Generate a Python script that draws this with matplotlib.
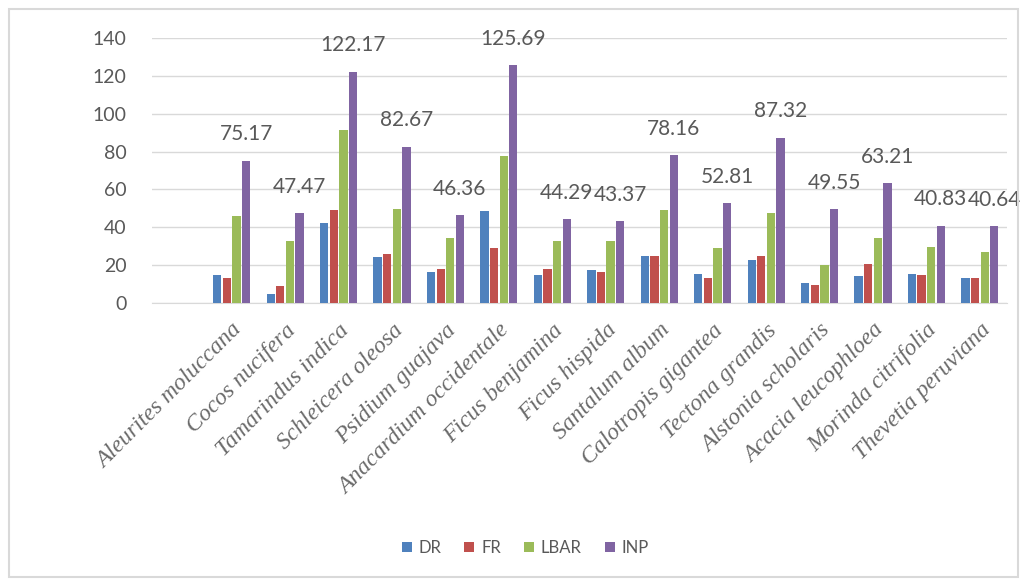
import matplotlib.pyplot as plt
import numpy as np
from matplotlib.patches import Rectangle

# first slot is empty in the original chart
species = ['', 'Aleurites moluccana', 'Cocos nucifera', 'Tamarindus indica', 'Schleicera oleosa',
           'Psidium guajava', 'Anacardium occidentale', 'Ficus benjamina', 'Ficus hispida',
           'Santalum album', 'Calotropis gigantea', 'Tectona grandis', 'Alstonia scholaris',
           'Acacia leucophloea', 'Morinda citrifolia', 'Thevetia peruviana']

dr = [0, 15.0, 4.9, 42.3, 24.1, 16.4, 48.4, 14.6, 17.3, 25.0, 15.3, 22.9, 10.6, 14.1, 15.3, 13.2]
fr = [0, 13.2, 9.2, 48.9, 25.9, 18.1, 29.0, 18.0, 16.2, 25.0, 13.2, 24.6, 9.7, 20.6, 14.6, 13.2]
lbar = [0, 46.1, 32.9, 91.5, 49.8, 34.3, 77.5, 32.9, 32.9, 48.9, 28.9, 47.5, 20.2, 34.2, 29.4, 26.9]
inp = [0, 75.17, 47.47, 122.17, 82.67, 46.36, 125.69, 44.29, 43.37, 78.16, 52.81, 87.32,
       49.55, 63.21, 40.83, 40.64]

series = [('DR', dr, '#4F81BD'), ('FR', fr, '#C0504D'),
          ('LBAR', lbar, '#9BBB59'), ('INP', inp, '#8064A2')]

fig = plt.figure(figsize=(10.24, 5.81), dpi=100)
ax = fig.add_axes([0.148, 0.4785, 0.835, 0.456])

x = np.arange(len(species))
w = 0.155
step = 0.18
for i, (name, vals, col) in enumerate(series):
    pos = x + (i - 1.5) * step
    ax.bar(pos, vals, width=w, color=col, label=name, zorder=3)
    if name == 'INP':
        for p, v in zip(pos[1:], vals[1:]):
            ax.annotate(f'{v:.2f}', (p, v), xytext=(0, 19), textcoords='offset points',
                        ha='center', va='center', fontsize=15, color='#595959',
                        family='Lato', annotation_clip=False)

ax.set_xlim(-0.5, len(species) - 0.5)
ax.set_ylim(0, 140)
ax.set_yticks(range(0, 141, 20))
ax.grid(axis='y', color='#D9D9D9', linewidth=1, zorder=0)
for s in ['top', 'right', 'left']:
    ax.spines[s].set_visible(False)
ax.spines['bottom'].set_color('#D9D9D9')
ax.tick_params(length=0)
ax.tick_params(axis='y', labelsize=14, labelcolor='#595959', pad=18)
for t in ax.get_yticklabels():
    t.set_family('Lato')

ax.set_xticks(x)
ax.set_xticklabels(species, rotation=45, ha='right', rotation_mode='anchor',
                   family='Liberation Serif', style='italic', fontsize=17, color='#6a6a6a')
ax.tick_params(axis='x', pad=12)

fig.legend(loc='center', bbox_to_anchor=(0.513, 0.057), ncol=4, frameon=False,
           prop={'family': 'Lato', 'size': 12}, labelcolor='#595959',
           handlelength=0.6, handleheight=0.6, handletextpad=0.4, columnspacing=1.4)

fig.patches.append(Rectangle((0.0088, 0.0069), 0.985, 0.978, transform=fig.transFigure,
                             fill=False, edgecolor='#D9D9D9', linewidth=1.5))

fig.savefig('out.png', dpi=100, facecolor='white')
